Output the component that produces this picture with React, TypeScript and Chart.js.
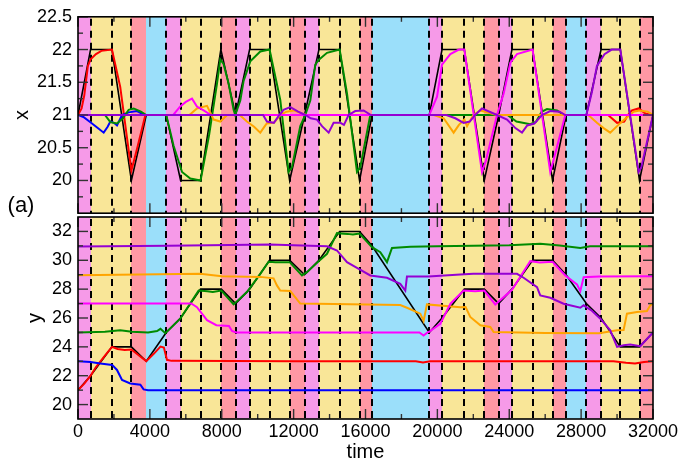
import React, { useEffect, useRef } from 'react';
import { Chart, registerables } from 'chart.js';
Chart.register(...registerables);

// ---------- DATA ----------
const T_MIN = 0;
const T_MAX = 32000;

// background band edges (time) and their colours
const bandEdges = [0, 700, 2970, 3800, 4910, 5710, 7975, 8770, 9550, 11780, 12610, 13410, 15670, 16360, 19550, 20260, 22610, 23410, 24150, 26410, 27160, 28290, 29110, 31250, 32000];
const bandKinds = ['pink', 'yellow', 'red', 'blue', 'pink', 'yellow', 'red', 'pink', 'yellow', 'red', 'pink', 'yellow', 'red', 'blue', 'pink', 'yellow', 'red', 'pink', 'yellow', 'red', 'blue', 'pink', 'yellow', 'red'];

// dashed vertical markers (time)
const dashedTimes = [700, 1890, 2970, 4910, 5710, 6820, 7975, 8770, 9550, 10660, 11780, 12610, 13410, 14560, 15670, 16360, 19550, 20260, 21500, 22610, 23410, 24150, 25300, 26410, 27160, 28290, 29110, 30180, 31250];

// tick values
const timeTickLabels = [0, 4000, 8000, 12000, 16000, 20000, 24000, 28000, 32000];
const timeMinorTicks = [2000, 6000, 10000, 14000, 18000, 22000, 26000, 30000];
const xTickLabels = [20, 20.5, 21, 21.5, 22, 22.5];
const xMinorTicks = [19.75, 20.25, 20.75, 21.25, 21.75, 22.25];
const yTickLabels = [20, 22, 24, 26, 28, 30, 32];
const yMinorTicks = [21, 23, 25, 27, 29, 31];

// panel (a): x vs time
const blackX = [[0, 21], [700, 22], [1890, 22], [2970, 20], [3800, 21], [4910, 21], [5710, 20], [6820, 20], [7950, 22], [8770, 21], [9550, 22], [10660, 22], [11780, 20], [12610, 21], [13410, 22], [14560, 22], [15670, 20], [16360, 21], [19550, 21], [20260, 22], [21500, 22], [22610, 20], [23410, 21], [24150, 22], [25300, 22], [26410, 20], [27160, 21], [28290, 21], [29110, 22], [30180, 22], [31250, 20], [32000, 21]];
const redX = [[0, 21], [200, 21.1], [350, 21.3], [550, 21.75], [700, 21.85], [1000, 21.93], [1300, 21.98], [1890, 22], [2350, 21.43], [2970, 20.15], [3300, 20.5], [3750, 21], [29500, 21], [30000, 20.88], [30400, 20.9], [30600, 21], [30830, 21.07], [31200, 21.1], [31600, 21.02], [32000, 21]];
const blueX = [[0, 21], [300, 20.97], [690, 20.89], [1100, 20.8], [1430, 20.73], [1650, 20.82], [1800, 20.9], [2000, 20.88], [2170, 20.84], [2450, 21.0], [2820, 21.04], [3280, 21.06], [3700, 21], [32000, 21]];
const greenX = [[0, 21], [1500, 21], [1800, 20.89], [2170, 20.87], [2500, 20.95], [2820, 21.08], [3100, 21.1], [3500, 21.05], [3800, 21], [4910, 21], [5320, 20.53], [5790, 20.13], [6250, 20.03], [6820, 20], [7300, 20.7], [7735, 21.48], [7920, 21.85], [8100, 21.78], [8380, 21.48], [8660, 21.08], [8750, 21], [9032, 21.22], [9217, 21.52], [9588, 21.82], [10145, 21.97], [10660, 22], [11257, 21.23], [11720, 20.13], [11906, 20.2], [12370, 20.83], [12650, 21], [12927, 21.22], [13205, 21.77], [13390, 21.84], [13857, 21.95], [14560, 22], [14970, 21.33], [15526, 20.13], [15710, 20.2], [16266, 21], [23900, 21], [24400, 20.9], [25170, 20.86], [25500, 20.9], [25800, 21.05], [26100, 21.09], [26660, 21.07], [27050, 21], [32000, 21]];
const magentaX = [[0, 21], [5300, 21], [5690, 21.13], [6000, 21.2], [6345, 21.25], [6620, 21.13], [6990, 21.07], [7400, 21], [19550, 21], [19980, 21.28], [20257, 21.77], [20720, 21.93], [21200, 22], [21500, 22], [22483, 20.13], [22700, 20.3], [23318, 21], [23690, 21.33], [24060, 21.8], [24430, 21.93], [25300, 22], [26283, 20.13], [26500, 20.35], [27120, 21], [32000, 21]];
const orangeX = [[0, 21], [6200, 21], [6620, 21.1], [7180, 21.14], [7550, 20.93], [7920, 20.9], [8300, 21], [9000, 21], [9400, 20.9], [9800, 20.82], [10145, 20.73], [10500, 20.87], [10900, 20.88], [11257, 21], [11600, 21.05], [12000, 21.07], [12400, 21.03], [12700, 21], [19800, 21], [20350, 20.95], [20905, 20.73], [21200, 20.85], [21500, 20.93], [21650, 20.83], [22000, 21], [22390, 21.07], [22900, 21.03], [23300, 21], [28400, 21], [28880, 20.88], [29250, 20.8], [29620, 20.73], [30000, 20.83], [30360, 20.92], [30920, 21.05], [31254, 21.07], [31700, 21.05], [32000, 21]];
const purpleX = [[0, 21], [10300, 21], [10515, 20.9], [10900, 20.88], [11150, 20.98], [11440, 21.08], [11815, 21.12], [12250, 21.05], [12650, 21], [12950, 20.95], [13300, 20.93], [13580, 20.83], [13950, 20.73], [14225, 20.88], [14600, 20.88], [14800, 20.85], [15060, 21.0], [15430, 21.06], [15895, 21.07], [16300, 21], [20500, 21], [21000, 20.95], [21460, 20.88], [21800, 20.9], [22100, 21.0], [22483, 21.1], [22900, 21.05], [23318, 21], [23875, 20.93], [24340, 20.8], [24710, 20.73], [25000, 20.84], [25400, 20.87], [25820, 21.0], [26283, 21.06], [26800, 21.05], [27120, 21], [28290, 21], [28600, 21.35], [28880, 21.75], [29300, 21.93], [29700, 22], [30180, 22], [31200, 20.13], [31350, 20.2], [32000, 21]];

// panel (b): y vs time
const blackY = [[0, 21], [700, 22], [1890, 24], [2970, 24], [3800, 23], [4910, 25], [5710, 26], [6820, 28], [7975, 28], [8770, 27], [9550, 28], [10660, 30], [11780, 30], [12610, 29], [13410, 30], [14560, 32], [15670, 32], [16360, 31], [19550, 25], [20260, 26], [21500, 28], [22610, 28], [23410, 27], [24150, 28], [25300, 30], [26410, 30], [27160, 29], [28290, 27], [29110, 26], [30180, 24], [31250, 24], [32000, 25]];
const redY = [[0, 21], [350, 21.45], [700, 22], [1000, 22.6], [1500, 23.4], [1890, 24], [2200, 23.85], [2600, 23.78], [2970, 23.82], [3800, 23], [4200, 23.5], [4590, 24.02], [4780, 23.95], [4950, 23.1], [5200, 23.03], [12000, 23.0], [18800, 23], [19200, 22.92], [19600, 23], [29800, 23], [30500, 22.9], [31000, 22.85], [31500, 22.95], [32000, 23]];
const blueY = [[0, 23], [700, 22.95], [1240, 22.85], [1900, 22.75], [2170, 22.4], [2450, 21.7], [2910, 21.46], [3470, 21.38], [3650, 21.05], [3900, 21], [32000, 21]];
const greenY = [[0, 25], [1500, 25.05], [2350, 25.15], [3000, 25.05], [3900, 25.0], [4400, 25.1], [4590, 25.25], [4860, 24.95], [5690, 25.95], [6713, 27.9], [7200, 27.85], [7500, 27.8], [7975, 27.9], [8660, 26.94], [9400, 27.8], [10145, 29.06], [10610, 29.9], [11000, 29.87], [11780, 29.87], [12465, 28.95], [12740, 29.18], [13390, 29.94], [13857, 30.45], [14413, 31.88], [15000, 31.83], [15300, 31.78], [15670, 31.85], [16361, 30.91], [16823, 30.56], [17195, 29.87], [17473, 30.86], [18500, 30.93], [20000, 30.98], [24000, 31.05], [25725, 31.14], [26800, 31.02], [27955, 30.86], [28500, 30.97], [32000, 30.97]];
const magentaY = [[0, 27], [6300, 27.0], [6435, 26.9], [6620, 26.75], [7180, 25.85], [7700, 25.5], [8400, 25.45], [8570, 25.1], [8800, 25.0], [12000, 25.0], [19000, 25.0], [19233, 24.78], [19450, 25.0], [19550, 25.05], [20160, 25.6], [20728, 26.99], [21460, 27.9], [22100, 27.85], [22611, 27.9], [23224, 26.94], [24153, 27.96], [25170, 29.94], [25700, 29.85], [26412, 29.9], [27120, 28.95], [27768, 28.33], [27955, 27.87], [28140, 28.83], [29000, 28.88], [32000, 28.9]];
const orangeY = [[0, 28.97], [6800, 29.07], [8000, 28.9], [10145, 28.85], [10885, 28.75], [11070, 28.26], [11257, 27.9], [11815, 27.87], [12370, 27.0], [17935, 26.9], [18307, 26.71], [19050, 26.3], [19233, 25.79], [19420, 26.94], [21276, 26.75], [21570, 26.76], [21830, 26.07], [22390, 25.49], [22945, 25.38], [23130, 25.03], [26000, 24.96], [29000, 24.95], [30000, 25.15], [30364, 25.17], [30550, 26.3], [31110, 26.41], [31663, 26.48], [31850, 26.88], [32000, 27.0]];
const purpleY = [[0, 30.95], [5000, 31], [10700, 31.09], [12000, 31.05], [13857, 30.97], [14413, 30.68], [14970, 29.87], [15526, 29.48], [16266, 28.95], [17195, 28.79], [17935, 28.37], [18214, 27.9], [18307, 28.88], [19500, 28.88], [21276, 29.02], [22000, 29.06], [24430, 29.06], [24800, 28.79], [25545, 28.14], [25725, 27.57], [26283, 27.4], [27024, 26.99], [27955, 26.71], [28140, 26.88], [28600, 26.5], [29070, 25.95], [29620, 25.15], [30000, 24.0], [30364, 24.11], [30735, 24.16], [31290, 24.04], [32000, 25]];

// ---------- STYLE ----------
const FONT = 'Liberation Sans, Arial, Helvetica, sans-serif';
const BAND_COLORS: Record<string, string> = {
  pink: 'rgb(246,154,232)',
  yellow: 'rgb(249,230,152)',
  red: 'rgb(255,152,164)',
  blue: 'rgb(155,223,250)',
};
const C = {
  black: '#000000',
  red: '#ff0000',
  blue: '#0000ff',
  green: 'rgb(0,139,0)',
  magenta: '#ff00ff',
  orange: 'rgb(255,165,0)',
  purple: 'rgb(148,0,211)',
};

function ds(label: string, pts: number[][], color: string, width: number) {
  return {
    label,
    data: pts.map(([x, y]) => ({ x, y })),
    borderColor: color,
    backgroundColor: color,
    borderWidth: width,
    pointRadius: 0,
    tension: 0,
    fill: false,
  };
}

const bandsPlugin = {
  id: 'bands',
  beforeDatasetsDraw(chart: any) {
    const { ctx, chartArea: a, scales } = chart;
    const x = scales.x;
    ctx.save();
    ctx.beginPath();
    ctx.rect(a.left, a.top, a.right - a.left, a.bottom - a.top);
    ctx.clip();
    for (let i = 0; i < bandKinds.length; i++) {
      const x0 = Math.round(x.getPixelForValue(bandEdges[i]));
      const x1 = Math.round(x.getPixelForValue(bandEdges[i + 1]));
      ctx.fillStyle = BAND_COLORS[bandKinds[i]];
      ctx.fillRect(x0, a.top, x1 - x0, a.bottom - a.top);
    }
    ctx.setLineDash([7, 5]);
    ctx.lineWidth = 2;
    ctx.strokeStyle = '#000';
    for (const t of dashedTimes) {
      const px = Math.round(x.getPixelForValue(t));
      ctx.beginPath();
      ctx.moveTo(px, a.top + 2);
      ctx.lineTo(px, a.bottom);
      ctx.stroke();
    }
    ctx.restore();
  },
};

const framePlugin = {
  id: 'frame',
  afterDraw(chart: any, _args: any, opts: any) {
    const { ctx, chartArea: a, scales } = chart;
    const x = scales.x;
    const y = scales.y;
    ctx.save();
    ctx.setLineDash([]);
    ctx.strokeStyle = '#333';
    ctx.lineWidth = 1.4;
    const seg = (x1: number, y1: number, x2: number, y2: number) => {
      ctx.beginPath();
      ctx.moveTo(x1, y1);
      ctx.lineTo(x2, y2);
      ctx.stroke();
    };
    const MAJ = 10;
    const MIN = 5;
    for (const v of timeTickLabels) {
      const p = x.getPixelForValue(v);
      seg(p, a.bottom, p, a.bottom - MAJ);
      seg(p, a.top, p, a.top + MAJ);
    }
    for (const v of timeMinorTicks) {
      const p = x.getPixelForValue(v);
      seg(p, a.bottom, p, a.bottom - MIN);
      seg(p, a.top, p, a.top + MIN);
    }
    for (const v of opts.major) {
      const p = y.getPixelForValue(v);
      seg(a.left, p, a.left + MAJ, p);
      seg(a.right, p, a.right - MAJ, p);
    }
    for (const v of opts.minor) {
      const p = y.getPixelForValue(v);
      seg(a.left, p, a.left + MIN, p);
      seg(a.right, p, a.right - MIN, p);
    }
    ctx.strokeStyle = '#000';
    ctx.lineWidth = 1.6;
    ctx.strokeRect(a.left, a.top, a.right - a.left, a.bottom - a.top);
    ctx.fillStyle = '#000';
    ctx.font = `22px ${FONT}`;
    ctx.textAlign = 'center';
    ctx.textBaseline = 'middle';
    ctx.fillText(opts.label, opts.labelX, opts.labelY);
    ctx.restore();
  },
};

function makeConfig(panel: 'top' | 'bottom'): any {
  const top = panel === 'top';
  const datasets = top
    ? [
        ds('purple', purpleX, C.purple, 2),
        ds('magenta', magentaX, C.magenta, 2),
        ds('orange', orangeX, C.orange, 2),
        ds('green', greenX, C.green, 2),
        ds('blue', blueX, C.blue, 2),
        ds('red', redX, C.red, 2),
        ds('reference', blackX, C.black, 1.6),
      ]
    : [
        ds('purple', purpleY, C.purple, 2),
        ds('magenta', magentaY, C.magenta, 2),
        ds('orange', orangeY, C.orange, 2),
        ds('green', greenY, C.green, 2),
        ds('blue', blueY, C.blue, 2),
        ds('red', redY, C.red, 2),
        ds('reference', blackY, C.black, 1.6),
      ];
  const tickFont = { family: FONT, size: 18, lineHeight: 1.2 };
  const titleFont = { family: FONT, size: 20, lineHeight: 1 };
  const valueTicks = top ? xTickLabels : yTickLabels;
  return {
    type: 'line',
    data: { datasets },
    plugins: [bandsPlugin, framePlugin],
    options: {
      animation: false,
      responsive: false,
      devicePixelRatio: 1,
      events: [],
      layout: { padding: top ? { left: 0, right: 29, top: 15, bottom: 13 } : { left: 0, right: 29, top: 17, bottom: 0 } },
      plugins: {
        legend: { display: false },
        tooltip: { enabled: false },
        frame: top
          ? { major: xTickLabels, minor: xMinorTicks, label: '(a)', labelX: 21, labelY: 206 }
          : { major: yTickLabels, minor: yMinorTicks, label: '(b)', labelX: 26, labelY: 431 },
      },
      scales: {
        x: {
          type: 'linear',
          min: T_MIN,
          max: T_MAX,
          display: !top,
          afterBuildTicks: (s: any) => {
            s.ticks = timeTickLabels.map((v) => ({ value: v }));
          },
          afterFit: (s: any) => {
            if (!top) s.height = 43;
          },
          grid: { display: false, drawTicks: false },
          border: { display: false },
          ticks: { font: tickFont, color: '#000', padding: 2, maxRotation: 0, autoSkip: false, callback: (v: any) => String(v) },
          title: { display: true, text: 'time', font: titleFont, color: '#000', padding: { top: 0, bottom: 0 } },
        },
        y: {
          type: 'linear',
          min: top ? 19.5 : 19,
          max: top ? 22.5 : 33,
          afterBuildTicks: (s: any) => {
            s.ticks = valueTicks.map((v) => ({ value: v }));
          },
          afterFit: (s: any) => {
            s.width = 78;
          },
          grid: { display: false, drawTicks: false },
          border: { display: false },
          ticks: { font: tickFont, color: '#000', padding: 6, autoSkip: false, callback: (v: any) => String(v) },
          title: { display: true, text: top ? 'x' : 'y', font: titleFont, color: '#000', padding: { top: top ? 12 : 25, bottom: 0 } },
        },
      },
    },
  };
}

export default function App() {
  const topRef = useRef<HTMLCanvasElement>(null);
  const botRef = useRef<HTMLCanvasElement>(null);
  useEffect(() => {
    const c1 = new Chart(topRef.current as HTMLCanvasElement, makeConfig('top'));
    const c2 = new Chart(botRef.current as HTMLCanvasElement, makeConfig('bottom'));
    return () => {
      c1.destroy();
      c2.destroy();
    };
  }, []);
  return (
    <div style={{ position: 'absolute', left: 0, top: 0, width: 682, height: 462, background: '#fff', overflow: 'hidden' }}>
      <canvas ref={topRef} width={682} height={230} style={{ position: 'absolute', left: 0, top: 0, width: 682, height: 230 }} />
      <canvas ref={botRef} width={682} height={262} style={{ position: 'absolute', left: 0, top: 200, width: 682, height: 262 }} />
    </div>
  );
}
